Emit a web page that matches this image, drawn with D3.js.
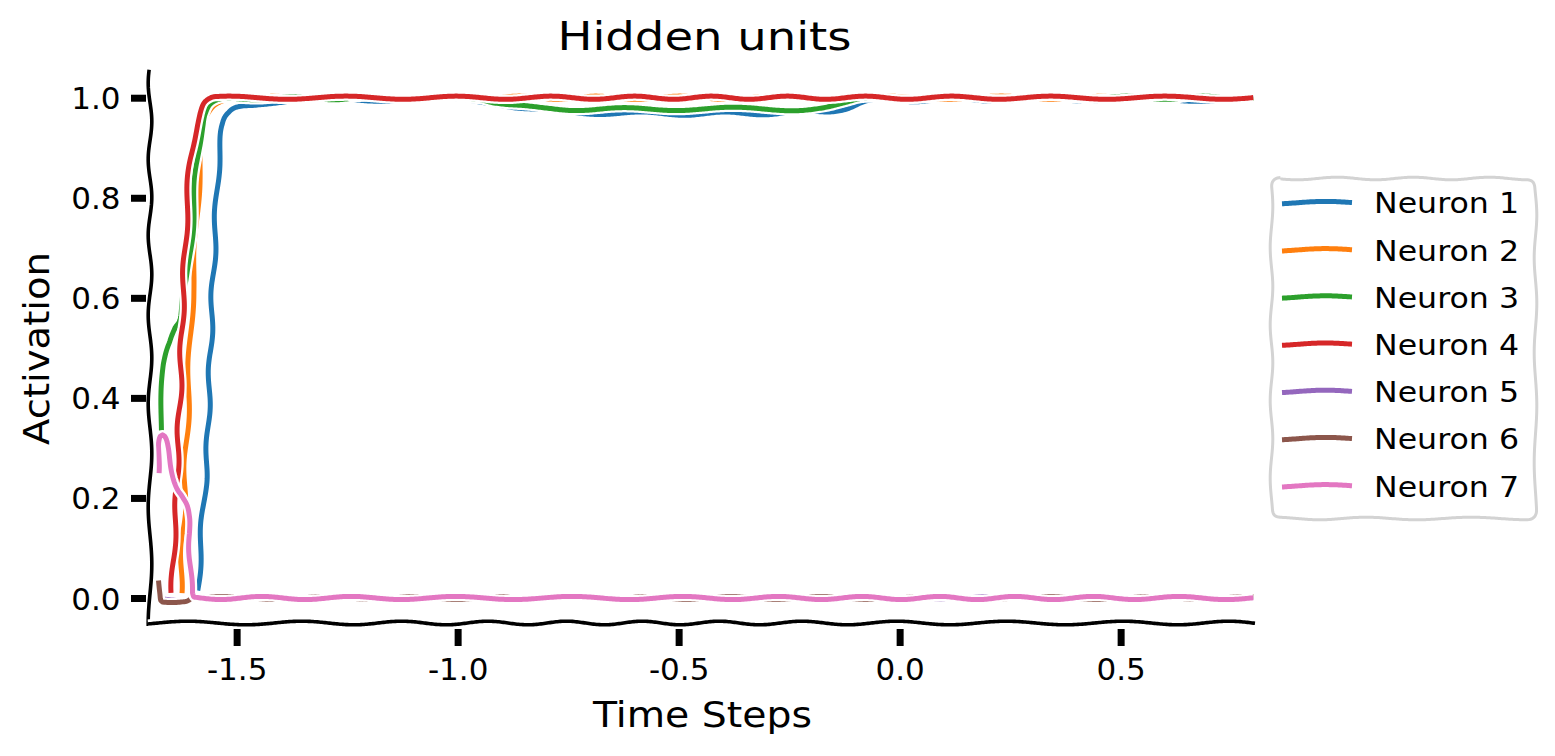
<!DOCTYPE html>
<html><head><meta charset="utf-8">
<script src="https://cdn.jsdelivr.net/npm/d3@7"></script>
<style>
body{margin:0;background:#fff}
svg{display:block}
text{font-family:"DejaVu Sans",sans-serif;fill:#000}
</style>
</head><body>
<svg id="chart" width="1555" height="756"></svg>
<script>
// ---------------- data ----------------
const seriesNames = ["Neuron 1","Neuron 2","Neuron 3","Neuron 4","Neuron 5","Neuron 6","Neuron 7"];
const seriesColors = ["#1f77b4","#ff7f0e","#2ca02c","#d62728","#9467bd","#8c564b","#e377c2"];

const neuron1 = [[-1.588,0.015],[-1.5815,0.10],[-1.574,0.20],[-1.566,0.30],[-1.5627,0.40],[-1.5588,0.50],[-1.555,0.60],[-1.550,0.70],[-1.5452,0.80],[-1.5385,0.90],[-1.528,0.95],[-1.515,0.97],[-1.50,0.98],[-1.46,0.987],[-1.40,0.993],[-1.3,0.996],[-1.0,0.996],[-0.92,0.99],[-0.85,0.978],[-0.75,0.971],[-0.5,0.968],[-0.3,0.969],[-0.18,0.972],[-0.12,0.98],[-0.07,0.992],[0.0,0.995],[0.8,0.996]];
const neuron2 = [[-1.627,0.01],[-1.623,0.10],[-1.619,0.17],[-1.617,0.235],[-1.612,0.335],[-1.608,0.435],[-1.604,0.535],[-1.600,0.60],[-1.595,0.66],[-1.592,0.72],[-1.588,0.80],[-1.580,0.90],[-1.571,0.95],[-1.560,0.975],[-1.545,0.99],[-1.514,1.0],[0.8,1.0]];
const neuron3 = [[-1.672,0.335],[-1.668,0.40],[-1.665,0.47],[-1.654,0.515],[-1.643,0.54],[-1.629,0.56],[-1.621,0.60],[-1.609,0.65],[-1.6045,0.70],[-1.5955,0.80],[-1.5865,0.90],[-1.577,0.95],[-1.566,0.975],[-1.55,0.99],[-1.52,0.997],[-1.45,0.999],[-0.95,0.999],[-0.92,0.993],[-0.87,0.984],[-0.8,0.978],[-0.6,0.977],[-0.4,0.978],[-0.25,0.977],[-0.17,0.98],[-0.12,0.988],[-0.08,0.997],[0.0,1.0],[0.8,1.0]];
const neuron4 = [[-1.646,0.01],[-1.642,0.10],[-1.636,0.20],[-1.633,0.30],[-1.628,0.40],[-1.625,0.50],[-1.621,0.60],[-1.617,0.69],[-1.611,0.80],[-1.606,0.86],[-1.600,0.90],[-1.593,0.94],[-1.586,0.965],[-1.577,0.985],[-1.566,0.995],[-1.548,1.0],[-1.5,1.0],[0.8,1.0]];
const neuron5 = [[-1.668,-0.005],[-1.614,-0.005],[-1.60,0.0],[0.8,0.0]];
const neuron6 = [[-1.676,0.035],[-1.671,0.01],[-1.668,-0.005],[-1.640,-0.006],[-1.614,-0.005],[-1.60,0.0],[0.8,0.0]];
const neuron7 = [[-1.679,0.25],[-1.674,0.31],[-1.668,0.323],[-1.662,0.315],[-1.657,0.30],[-1.646,0.26],[-1.634,0.22],[-1.623,0.20],[-1.6115,0.17],[-1.6057,0.13],[-1.6045,0.07],[-1.6030,0.01],[-1.5966,0.0],[-1.5,0.0],[0.8,0.0]];
const seriesData = [neuron1,neuron2,neuron3,neuron4,neuron5,neuron6,neuron7];

const xTicks = [-1.5,-1.0,-0.5,0.0,0.5];
const yTicks = [0.0,0.2,0.4,0.6,0.8,1.0];
const xDomain = [-1.696,0.804];
const yDomain = [-0.05,1.05];
const titleText = "Hidden units";
const xLabelText = "Time Steps";
const yLabelText = "Activation";

// ---------------- layout ----------------
const svg = d3.select("#chart");
const x = d3.scaleLinear().domain(xDomain).range([150,1255]);
const y = d3.scaleLinear().domain(yDomain).range([623,72.7]);

// xkcd-like sketch effect: resample a path and displace it perpendicular
function sketch(d, amp, period, phase){
  const tmp = svg.append("path").attr("d",d).attr("fill","none");
  const node = tmp.node();
  const L = node.getTotalLength();
  const n = Math.max(2, Math.ceil(L/1.5));
  const pts = [];
  for(let i=0;i<=n;i++){const p=node.getPointAtLength(L*i/n);pts.push([p.x,p.y]);}
  tmp.remove();
  let ph = phase;
  const out = pts.map((p,i)=>{
    const a=pts[Math.max(0,i-1)], b=pts[Math.min(n,i+1)];
    let tx=b[0]-a[0], ty=b[1]-a[1];
    const len=Math.hypot(tx,ty)||1; tx/=len; ty/=len;
    const s=L*i/n;
    const rate = 1 + 0.22*Math.sin(s/137 + phase*1.7);
    if(i>0) ph += 2*Math.PI*(L/n)/period*rate;
    const off = amp*Math.sin(ph);
    return [p[0]-ty*off, p[1]+tx*off];
  });
  return "M"+out.map(p=>p[0].toFixed(2)+","+p[1].toFixed(2)).join("L");
}

const lineGen = d3.line().x(d=>x(d[0])).y(d=>y(d[1])).curve(d3.curveMonotoneX);

const LW = 5, OW = 9.5;
const gLines = svg.append("g");
seriesData.forEach((data,i)=>{
  const d = sketch(lineGen(data), 1.6, 92, i*1.3);
  gLines.append("path").attr("d",d).attr("fill","none").attr("stroke","#fff")
    .attr("stroke-width",OW).attr("stroke-linejoin","round");
  gLines.append("path").attr("d",d).attr("fill","none").attr("stroke",seriesColors[i])
    .attr("stroke-width",LW).attr("stroke-linejoin","round");
});

// spines
const spines = [
  `M${x.range()[0]},${y.range()[1]-3}L${x.range()[0]},${y.range()[0]+3}`,
  `M${x.range()[0]-2},${y.range()[0]}L${x.range()[1]},${y.range()[0]}`
];
spines.forEach((s,i)=>{
  const d = sketch(s, 1.8, 92, 0.5+i*2.1);
  svg.append("path").attr("d",d).attr("fill","none").attr("stroke","#fff").attr("stroke-width",9);
  svg.append("path").attr("d",d).attr("fill","none").attr("stroke","#000").attr("stroke-width",3.6);
});

// axes
const fmt = v => v.toFixed(1);
const yAxis = svg.append("g").attr("transform","translate(146,0)")
  .call(d3.axisLeft(y).tickValues(yTicks).tickFormat(fmt).tickSize(15).tickPadding(10.5));
const xAxis = svg.append("g").attr("transform","translate(0,629)")
  .call(d3.axisBottom(x).tickValues(xTicks).tickFormat(fmt).tickSize(17).tickPadding(12));
[yAxis,xAxis].forEach(g=>{
  g.select(".domain").remove();
  g.attr("font-family",null).attr("font-size",null);
  g.selectAll(".tick line").attr("stroke","#000");
  g.selectAll(".tick text").attr("font-size",31).attr("fill","#000")
   .style("font-family",'"DejaVu Sans",sans-serif');
});
yAxis.selectAll(".tick line").attr("stroke-width",7);
yAxis.selectAll(".tick text").attr("dy","0.355em");
xAxis.selectAll(".tick line").attr("stroke-width",7);

// title and labels
svg.append("text").attr("x",704.5).attr("y",50).attr("text-anchor","middle")
  .attr("font-size",39).attr("textLength",294).attr("lengthAdjust","spacingAndGlyphs").text(titleText);
svg.append("text").attr("x",702.5).attr("y",727).attr("text-anchor","middle")
  .attr("font-size",35).attr("textLength",219).attr("lengthAdjust","spacingAndGlyphs").text(xLabelText);
svg.append("text").attr("transform","translate(49,348.5) rotate(-90)").attr("text-anchor","middle")
  .attr("font-size",35).attr("textLength",193).attr("lengthAdjust","spacingAndGlyphs").text(yLabelText);

// legend
const lg = svg.append("g");
const bx=1271.5, by=178.5, bw=264, bh=340, r=9;
const frame = `M${bx+r},${by}L${bx+bw-r},${by}Q${bx+bw},${by} ${bx+bw},${by+r}L${bx+bw},${by+bh-r}Q${bx+bw},${by+bh} ${bx+bw-r},${by+bh}L${bx+r},${by+bh}Q${bx},${by+bh} ${bx},${by+bh-r}L${bx},${by+r}Q${bx},${by} ${bx+r},${by}Z`;
const fd = sketch(frame, 1.3, 92, 0.3);
lg.append("path").attr("d",fd).attr("fill","#fff").attr("stroke","#d3d3d3").attr("stroke-width",3);
const rowY = seriesNames.map((_,i)=>202.7 + i*47.2);
seriesNames.forEach((name,i)=>{
  const d = sketch(`M1282,${rowY[i]}L1352,${rowY[i]}`, 1.3, 92, 2.2);
  lg.append("path").attr("d",d).attr("fill","none").attr("stroke",seriesColors[i])
    .attr("stroke-width",LW);
  lg.append("text").attr("x",1374).attr("y",rowY[i]+10.6).attr("font-size",28)
    .attr("textLength",145).attr("lengthAdjust","spacingAndGlyphs").text(name);
});
</script>
</body></html>
